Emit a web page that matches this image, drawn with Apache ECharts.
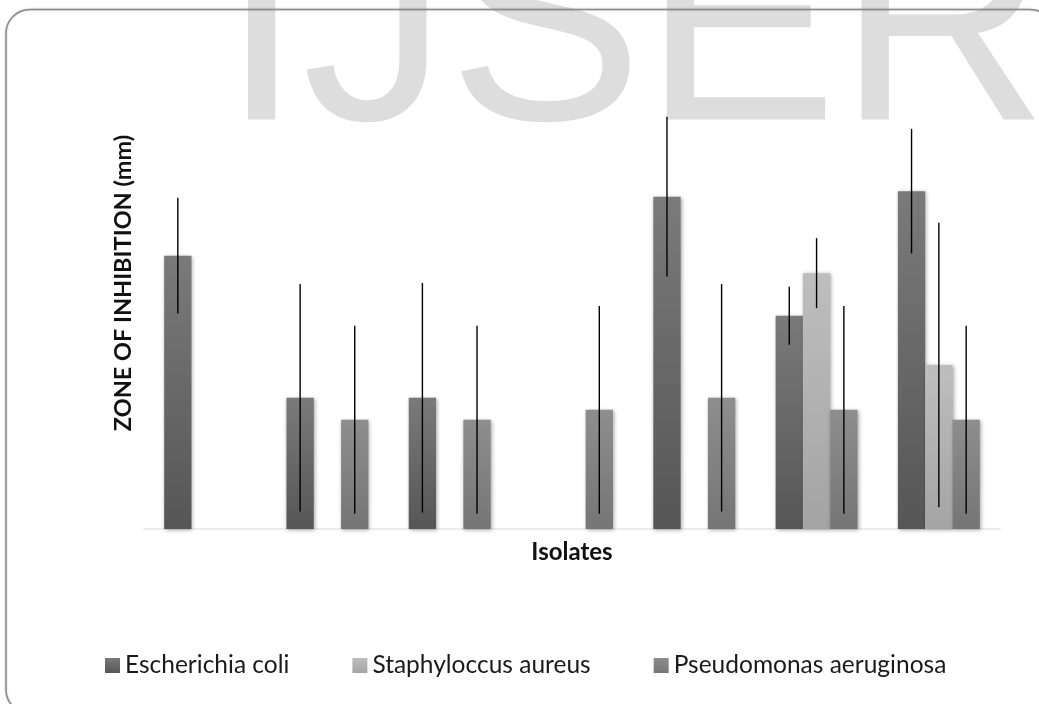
<!DOCTYPE html>
<html>
<head>
<meta charset="utf-8">
<script src="https://cdn.jsdelivr.net/npm/echarts@6/dist/echarts.min.js"></script>
<style>
html,body{margin:0;padding:0;background:#fff;}
#chart{width:1039px;height:704px;}
</style>
</head>
<body>
<div id="chart"></div>
<script>
// ---- data ----
var categories = ['Isolate 1','Isolate 2','Isolate 3','Isolate 4','Isolate 5','Isolate 6','Isolate 7'];
var seriesNames = ['Escherichia coli','Staphyloccus aureus','Pseudomonas aeruginosa'];
var ecoli      = [25.0, 12.0, 12.0, null, 30.4, 19.5, 30.9];
var saureus    = [null, null, null, null, null, 23.4, 15.0];
var paeruginosa= [null, 10.0, 10.0, 10.9, 12.0, 10.9, 10.0];
var ecoliErr   = [5.3, 10.4, 10.5, null, 7.3, 2.65, 5.7];
var saureusErr = [null, null, null, null, null, 3.2, 13.0];
var paeruginosaErr = [null, 8.6, 8.6, 9.5, 10.4, 9.5, 8.6];
var yAxisTitle = 'ZONE OF INHIBITION (mm)';
var xAxisTitle = 'Isolates';
var watermark = 'IJSER';

var values = [ecoli, saureus, paeruginosa];
var errors = [ecoliErr, saureusErr, paeruginosaErr];
var gradients = [
  ['#7a7a7a', '#565656'],
  ['#bebebe', '#a4a4a4'],
  ['#8e8e8e', '#757575']
];
var CAT_GAP = 0.33;

function grad(c) {
  return new echarts.graphic.LinearGradient(0, 0, 0, 1, [
    {offset: 0, color: c[0]}, {offset: 1, color: c[1]}
  ]);
}

var series = [];
values.forEach(function (vals, i) {
  series.push({
    name: seriesNames[i],
    type: 'bar',
    data: vals,
    barGap: '0%',
    barCategoryGap: (CAT_GAP * 100) + '%',
    itemStyle: {
      color: grad(gradients[i]),
      shadowBlur: 4,
      shadowColor: 'rgba(0,0,0,0.35)',
      shadowOffsetX: 1,
      shadowOffsetY: 1
    },
    z: 2
  });
});
errors.forEach(function (errs, i) {
  var d = [];
  values[i].forEach(function (v, k) {
    if (v != null && errs[k] != null) d.push([k, v, errs[k]]);
  });
  series.push({
    name: 'err' + i,
    type: 'custom',
    data: d,
    z: 5,
    silent: true,
    encode: {x: 0, y: 1},
    renderItem: function (params, api) {
      var k = api.value(0), v = api.value(1), e = api.value(2);
      var band = api.size([1, 0])[0];
      var bw = band * (1 - CAT_GAP) / 3;
      var off = (i - 1) * bw;
      var p1 = api.coord([k, v + e]);
      var p2 = api.coord([k, v - e]);
      return {
        type: 'line',
        shape: {x1: p1[0] + off, y1: p1[1], x2: p2[0] + off, y2: p2[1]},
        style: {stroke: '#000', lineWidth: 1.4}
      };
    }
  });
});

var chart = echarts.init(document.getElementById('chart'), null, {renderer: 'canvas'});
chart.setOption({
  backgroundColor: '#ffffff',
  animation: false,
  graphic: [
    {
      type: 'text', z: -10, silent: true,
      x: 221, y: 39,
      style: {
        text: watermark,
        font: '292px "Liberation Sans", Arial, sans-serif',
        fill: '#dddddd',
        verticalAlign: 'middle',
        align: 'left'
      }
    },
    {
      type: 'rect', z: -5, silent: true,
      shape: {x: 6, y: 9.5, width: 1048, height: 704, r: 24},
      style: {fill: 'none', stroke: '#8a8a8a', lineWidth: 1.5, shadowBlur: 2, shadowColor: 'rgba(0,0,0,0.25)'}
    }
  ],
  legend: {
    data: seriesNames,
    left: 105,
    top: 653,
    padding: 0,
    itemWidth: 15,
    itemHeight: 15,
    itemGap: 63,
    icon: 'rect',
    textStyle: {fontFamily: 'Lato', fontSize: 24.5, color: '#1a1a1a'}
  },
  grid: {left: 144, right: 39, top: 37, bottom: 175, containLabel: false},
  xAxis: {
    type: 'category',
    data: categories,
    name: xAxisTitle,
    nameLocation: 'middle',
    nameGap: 11,
    nameTextStyle: {fontFamily: 'Lato', fontWeight: 'bold', fontSize: 24, color: '#111', verticalAlign: 'top'},
    axisLine: {show: true, lineStyle: {color: '#ececec', width: 2}},
    axisTick: {show: false},
    axisLabel: {show: false},
    splitLine: {show: false}
  },
  yAxis: {
    type: 'value',
    min: 0, max: 45,
    name: yAxisTitle,
    nameLocation: 'middle',
    nameGap: 9,
    nameRotate: 90,
    nameTextStyle: {fontFamily: 'Lato', fontWeight: 'bold', fontSize: 23.5, color: '#111'},
    axisLine: {show: false},
    axisTick: {show: false},
    axisLabel: {show: false},
    splitLine: {show: false}
  },
  series: series
});
</script>
</body>
</html>
